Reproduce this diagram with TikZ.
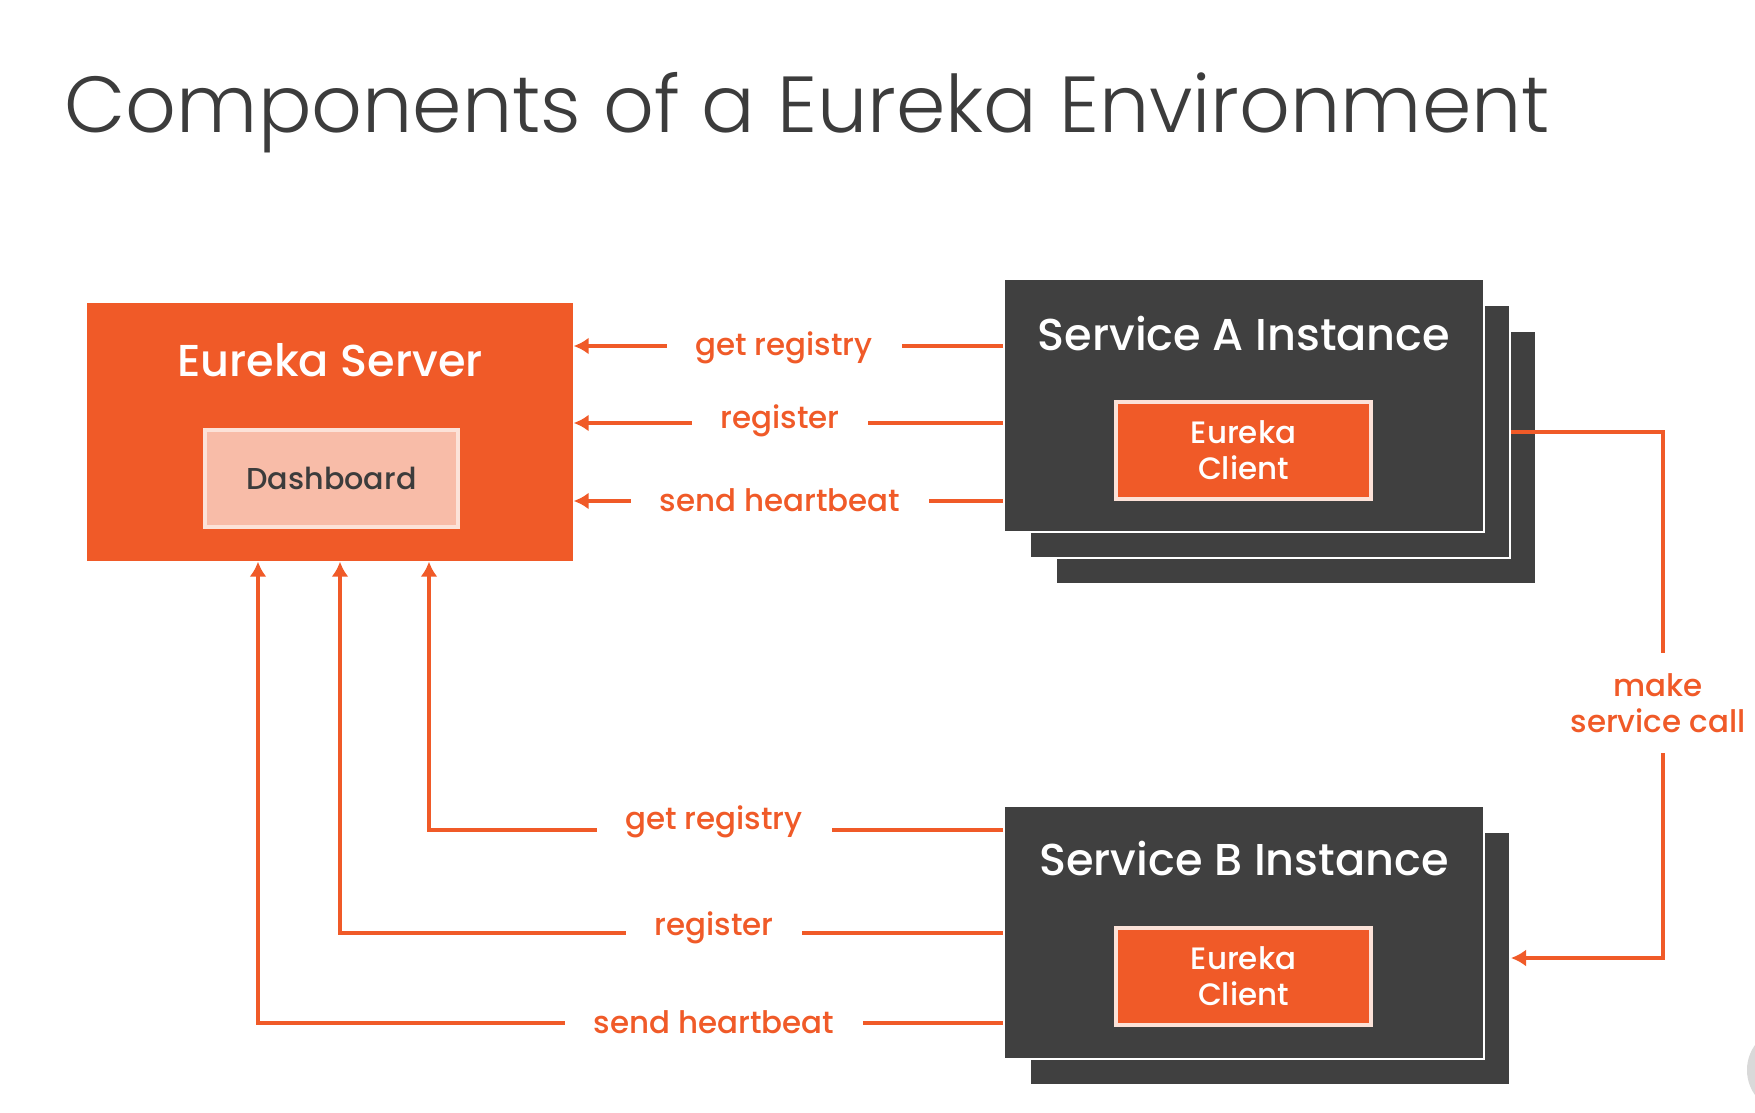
\documentclass[tikz,border=0pt]{standalone}
\usepackage{fontspec}
\usetikzlibrary{arrows.meta}
\setmainfont{Poppins}
\IfFontExistsTF{Poppins Light}{\newfontfamily\thinfont{Poppins Light}}{\newfontfamily\thinfont{Poppins}}
\IfFontExistsTF{Poppins Medium}{\newfontfamily\midfont{Poppins Medium}}{\newfontfamily\midfont{Poppins}}
\definecolor{eurekaorange}{HTML}{F05A28}
\definecolor{boxgray}{HTML}{404040}
\definecolor{dashpink}{HTML}{F8BCA8}
\definecolor{edgepink}{HTML}{FCE2D8}
\definecolor{titlegray}{HTML}{3C3C3C}

\begin{document}
\begin{tikzpicture}[x=0.1mm,y=-0.1mm,
    flow/.style={draw=eurekaorange,line width=0.4mm},
    tip/.style={-{Latex[length=1.5mm,width=1.7mm]}},
    svcbox/.style={fill=boxgray,draw=white,line width=0.2mm,minimum width=48mm,minimum height=25.3mm,inner sep=0pt},
    clientbox/.style={fill=eurekaorange,draw=edgepink,line width=0.4mm,minimum width=25.5mm,minimum height=9.7mm,inner sep=0pt,text=white,align=center,font=\midfont\fontsize{8.8}{10.2}\selectfont},
    boxtitle/.style={text=white,anchor=base,inner sep=0pt,font=\midfont\fontsize{12.7}{14}\selectfont},
    lbl/.style={text=eurekaorange,anchor=base,inner xsep=2.8mm,inner ysep=0pt,font=\midfont\fontsize{8.8}{10.2}\selectfont}]
    \useasboundingbox (0,0) rectangle (1755,1113);
    \clip (0,0) rectangle (1755,1113);
    \fill[white] (0,0) rectangle (1755,1113);

    \node[anchor=base west,inner sep=0pt,text=titlegray,font=\thinfont\fontsize{22.6}{28}\selectfont] (title) at (64,132) {Components of a Eureka Environment};

    % server
    \node[fill=eurekaorange,minimum width=48.6mm,minimum height=25.8mm,inner sep=0pt] (server) at (330,432) {};
    \node[boxtitle] (serverT) at ([yshift=-7.4mm]server.north) {Eureka Server};
    \node[fill=dashpink,draw=edgepink,line width=0.4mm,minimum width=25.3mm,minimum height=9.7mm,inner sep=0pt,text=titlegray,font=\midfont\fontsize{8.6}{11}\selectfont] (dash) at (331.5,478.5) {Dashboard};

    % service A, three instances
    \node[svcbox] (svcA3) at (1296,457.5) {};
    \node[svcbox] (svcA2) at (1270,431.5) {};
    \node[svcbox] (svcA) at (1244,405.5) {};
    \node[boxtitle] (svcAT) at ([yshift=-7.2mm]svcA.north) {Service A Instance};
    \node[clientbox] (clientA) at (1243.5,450.5) {Eureka\\Client};

    % service B, two instances
    \node[svcbox] (svcB2) at (1270,958) {};
    \node[svcbox] (svcB) at (1244,932) {};
    \node[boxtitle] (svcBT) at ([yshift=-7.1mm]svcB.north) {Service B Instance};
    \node[clientbox] (clientB) at (1243.5,976.5) {Eureka\\Client};

    % A -> server
    \coordinate (yA1) at (0,346);
    \coordinate (yA2) at (0,423);
    \coordinate (yA3) at (0,501);
    \node[lbl] (aGet) at (784,355) {get registry};
    \node[lbl] (aReg) at (780,428) {register};
    \node[lbl] (aBeat) at (780,511) {send heartbeat};
    \draw[flow] (svcA.west |- yA1) -- (aGet.east |- yA1);
    \draw[flow,tip] (aGet.west |- yA1) -- (server.east |- yA1);
    \draw[flow] (svcA.west |- yA2) -- (aReg.east |- yA2);
    \draw[flow,tip] (aReg.west |- yA2) -- (server.east |- yA2);
    \draw[flow] (svcA.west |- yA3) -- (aBeat.east |- yA3);
    \draw[flow,tip] (aBeat.west |- yA3) -- (server.east |- yA3);

    % B -> server
    \coordinate (cB1) at (429,830);
    \coordinate (cB2) at (340,933);
    \coordinate (cB3) at (258,1023);
    \node[lbl] (bGet) at (714,829) {get registry};
    \node[lbl] (bReg) at (714,935) {register};
    \node[lbl] (bBeat) at (714,1033) {send heartbeat};
    \draw[flow] (svcB.west |- cB1) -- (bGet.east |- cB1);
    \draw[flow,tip] (bGet.west |- cB1) -- (cB1) -- (cB1 |- server.south);
    \draw[flow] (svcB.west |- cB2) -- (bReg.east |- cB2);
    \draw[flow,tip] (bReg.west |- cB2) -- (cB2) -- (cB2 |- server.south);
    \draw[flow] (svcB.west |- cB3) -- (bBeat.east |- cB3);
    \draw[flow,tip] (bBeat.west |- cB3) -- (cB3) -- (cB3 |- server.south);

    % A -> B
    \coordinate (cx) at (1663,0);
    \node[lbl,anchor=center,align=center,inner ysep=2mm] (call) at (1658,703) {make\\service call};
    \draw[flow] (svcA2.east) -| (cx |- call.north);
    \draw[flow,tip] (cx |- call.south) |- (svcB2.east);

    \fill[black!15] (1790,1070) circle (4.3mm);
\end{tikzpicture}
\end{document}
